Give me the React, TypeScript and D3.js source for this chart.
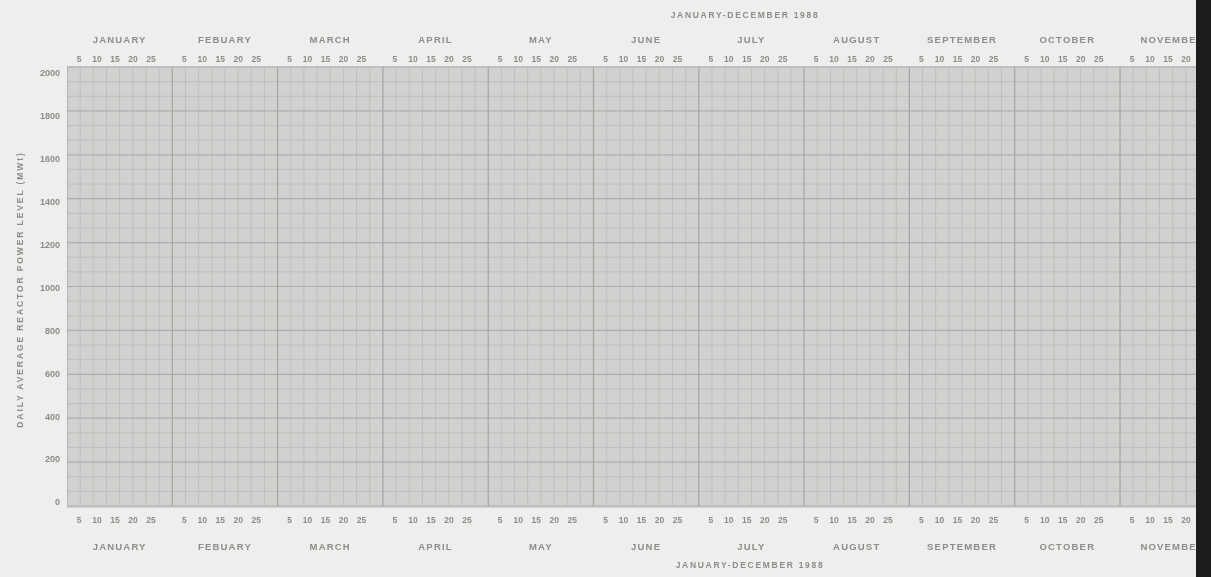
import * as React from 'react'
import { useEffect, useRef } from 'react'
import * as d3 from 'd3'

const months = ['JANUARY', 'FEBUARY', 'MARCH', 'APRIL', 'MAY', 'JUNE', 'JULY', 'AUGUST', 'SEPTEMBER', 'OCTOBER', 'NOVEMBER', 'DECEMBER']
const dayTicks = [5, 10, 15, 20, 25]
const powerTicks = [0, 200, 400, 600, 800, 1000, 1200, 1400, 1600, 1800, 2000]
const yearTitle = 'JANUARY-DECEMBER 1988'
const yTitle = 'DAILY AVERAGE REACTOR POWER LEVEL (MWt)'

const W = 1211
const H = 577

export default function App() {
  const svgRef = useRef<SVGSVGElement>(null)

  useEffect(() => {
    if (!svgRef.current) return
    const svg = d3.select(svgRef.current)
    svg.selectAll('*').remove()

    const left = 67
    const monthW = 105.3
    const cutX = 1196
    const top = 67
    const bottom = 506

    const xScale = d3.scaleBand<string>()
      .domain(months)
      .range([left, left + monthW * months.length])
    const dayScale = d3.scaleLinear().domain([5, 25]).range([12, 84])
    const yScale = d3.scaleLinear().domain([0, 2000]).range([bottom, top])
    // printed labels sit slightly off the ruled lines on the scan
    const yLabel = d3.scaleLinear().domain([0, 2000]).range([503, 74])

    // only months whose column starts before the scanner edge are visible
    const visibleMonths = months.filter(m => xScale(m)! < cutX)

    const font = '"Liberation Sans", Arial, sans-serif'
    const textColor = '#8c8c8a'

    const defs = svg.append('defs')
    defs.append('filter').attr('id', 'soft')
      .append('feGaussianBlur').attr('stdDeviation', 0.4)

    // page
    svg.append('rect').attr('width', W).attr('height', H).attr('fill', '#eeeeec')

    defs.append('clipPath').attr('id', 'plot-clip')
      .append('rect')
      .attr('x', left).attr('y', top - 1)
      .attr('width', cutX - left).attr('height', bottom - top + 3)

    const plot = svg.append('g').attr('clip-path', 'url(#plot-clip)')

    plot.append('rect')
      .attr('x', left).attr('y', top - 1)
      .attr('width', cutX - left).attr('height', bottom - top + 3)
      .attr('fill', '#d1d1cf')

    // minor horizontal lines
    const minorY = d3.range(0, 2000, 200 / 3).filter(v => Math.abs(v % 200) > 1)
    plot.selectAll('.hminor').data(minorY).enter().append('line')
      .attr('x1', left).attr('x2', cutX)
      .attr('y1', d => yScale(d)).attr('y2', d => yScale(d))
      .attr('stroke', '#bfbfbd').attr('stroke-width', 1)

    // minor vertical lines
    const minorX: number[] = []
    months.forEach(m => {
      const x0 = xScale(m)!
      for (let i = 1; i < 8; i++) minorX.push(x0 + (xScale.bandwidth() * i) / 8)
    })
    plot.selectAll('.vminor').data(minorX).enter().append('line')
      .attr('x1', d => d).attr('x2', d => d)
      .attr('y1', top).attr('y2', bottom)
      .attr('stroke', '#bebebc').attr('stroke-width', 1)

    // major horizontal lines
    plot.selectAll('.hmajor').data(powerTicks).enter().append('line')
      .attr('x1', left).attr('x2', cutX)
      .attr('y1', d => yScale(d)).attr('y2', d => yScale(d))
      .attr('stroke', '#adadab').attr('stroke-width', 1.2)

    // month lines
    plot.selectAll('.vmajor').data(months).enter().append('line')
      .attr('x1', d => xScale(d)!).attr('x2', d => xScale(d)!)
      .attr('y1', top).attr('y2', bottom)
      .attr('stroke', '#a3a3a1').attr('stroke-width', 1.2)

    const textGroup = svg.append('g')
      .attr('font-family', font)
      .attr('font-weight', 'bold')
      .attr('fill', textColor)
      .attr('filter', 'url(#soft)')

    // y axis labels
    textGroup.selectAll('.ytick').data(powerTicks).enter().append('text')
      .attr('x', 60)
      .attr('y', d => yLabel(d))
      .attr('text-anchor', 'end')
      .attr('dominant-baseline', 'middle')
      .attr('font-size', '9px')
      .text(d => d)

    textGroup.append('text')
      .attr('transform', `translate(21, ${(top + bottom) / 2 + 3}) rotate(-90)`)
      .attr('text-anchor', 'middle')
      .attr('dominant-baseline', 'middle')
      .attr('font-size', '8.5px')
      .attr('letter-spacing', '1.9px')
      .text(yTitle)

    // month + day labels, top and bottom
    const rows = [
      { monthY: 40, dayY: 60 },
      { monthY: 547, dayY: 521 },
    ]
    rows.forEach(r => {
      textGroup.selectAll(null).data(visibleMonths).enter().append('text')
        .attr('x', d => xScale(d)! + xScale.bandwidth() / 2)
        .attr('y', r.monthY)
        .attr('text-anchor', 'middle')
        .attr('dominant-baseline', 'middle')
        .attr('font-size', '9.5px')
        .attr('letter-spacing', '1.2px')
        .text(d => d)

      visibleMonths.forEach(m => {
        textGroup.selectAll(null).data(dayTicks).enter().append('text')
          .attr('x', d => xScale(m)! + dayScale(d))
          .attr('y', r.dayY)
          .attr('text-anchor', 'middle')
          .attr('dominant-baseline', 'middle')
          .attr('font-size', '8.5px')
          .text(d => d)
      })
    })

    textGroup.append('text')
      .attr('x', 745).attr('y', 16)
      .attr('text-anchor', 'middle')
      .attr('dominant-baseline', 'middle')
      .attr('font-size', '8.5px')
      .attr('letter-spacing', '1.7px')
      .text(yearTitle)

    textGroup.append('text')
      .attr('x', 750).attr('y', 566)
      .attr('text-anchor', 'middle')
      .attr('dominant-baseline', 'middle')
      .attr('font-size', '8.5px')
      .attr('letter-spacing', '1.7px')
      .text(yearTitle)

    // scanner edge
    svg.append('rect')
      .attr('x', cutX).attr('y', 0)
      .attr('width', W - cutX).attr('height', H)
      .attr('fill', '#1c1c1a')
  }, [])

  return (
    <svg
      ref={svgRef}
      width={W}
      height={H}
      style={{ position: 'absolute', left: 0, top: 0, display: 'block' }}
    />
  )
}
